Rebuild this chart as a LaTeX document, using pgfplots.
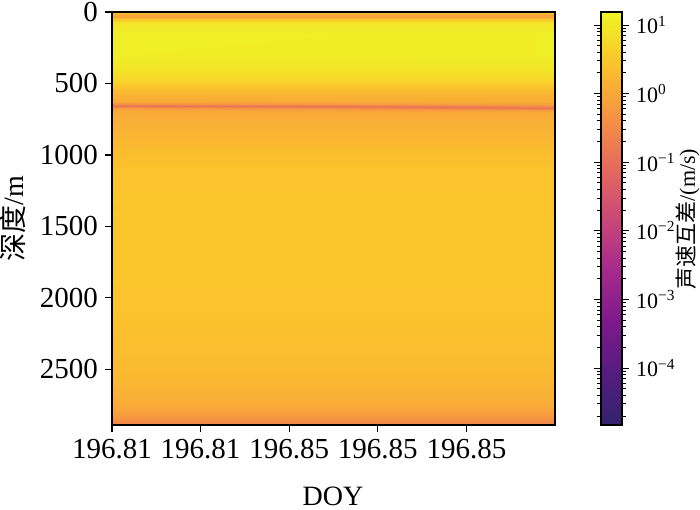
\documentclass[border=0pt]{standalone}
\usepackage{fontspec}
\setmainfont{Liberation Serif}
\newfontfamily\cjk{Noto Sans CJK SC}
\usepackage{pgfplots}
\pgfplotsset{compat=1.18}
\pgfplotsset{colormap={plasma}{rgb255(0cm)=(50,35,108) rgb255(1cm)=(85,28,128) rgb255(2cm)=(125,25,140) rgb255(3cm)=(166,42,140) rgb255(4cm)=(202,72,120) rgb255(5cm)=(229,107,93) rgb255(6cm)=(246,148,66) rgb255(7cm)=(251,195,44) rgb255(7.5cm)=(245,220,40) rgb255(8cm)=(238,245,38)}}
\begin{document}
\begin{tikzpicture}
\begin{axis}[
  name=main,
  scale only axis,
  width=221.5pt, height=206.5pt,
  xmin=0, xmax=5, ymin=0, ymax=2890,
  y dir=reverse,
  enlargelimits=false,
  axis on top,
  colormap name=plasma,
  point meta min=-4.83, point meta max=1.19,
  xtick={0,1,2,3,4},
  xticklabels={196.81,196.81,196.85,196.85,196.85},
  ytick={0,500,1000,1500,2000,2500},
  tick align=outside,
  xtick pos=bottom, ytick pos=left,
  major tick length=3.5pt,
  every tick/.style={black, line width=0.6pt},
  axis line style={line width=0.8pt},
  /pgf/number format/assume math mode=true,
  /pgf/number format/1000 sep={},
  tick label style={font=\fontsize{14.5}{16}\selectfont},
  xlabel={DOY},
  ylabel={{\cjk 深度}/m},
  label style={font=\fontsize{14}{16}\selectfont},
  xlabel style={at={(axis description cs:0.499,-0.172)}, anchor=center},
  ylabel style={at={(axis description cs:-0.2235,0.5)}, anchor=center},
  colorbar,
  colorbar style={
    at={(parent axis.north east)}, anchor=north west, xshift=14.5pt,
    width=10.5pt,
    ytick={-4,-3,-2,-1,0,1},
    yticklabels={10\textsuperscript{−4},10\textsuperscript{−3},10\textsuperscript{−2},10\textsuperscript{−1},10\textsuperscript{0},10\textsuperscript{1}},
    minor ytick={-4.699,-4.523,-4.398,-4.301,-4.222,-4.155,-4.097,-4.046,
                 -3.699,-3.523,-3.398,-3.301,-3.222,-3.155,-3.097,-3.046,
                 -2.699,-2.523,-2.398,-2.301,-2.222,-2.155,-2.097,-2.046,
                 -1.699,-1.523,-1.398,-1.301,-1.222,-1.155,-1.097,-1.046,
                 -0.699,-0.523,-0.398,-0.301,-0.222,-0.155,-0.097,-0.046,
                 0.301,0.477,0.602,0.699,0.778,0.845,0.903,0.954},
    tick align=outside,
    major tick length=3.5pt, minor tick length=2pt,
    every tick/.style={black, line width=0.5pt},
    axis line style={line width=0.6pt},
    yticklabel style={font=\fontsize{11}{13}\selectfont},
  },
]
\addplot[surf, shader=interp, point meta={log10(\thisrow{v})}] table[x=x, y=y] {
x y v
0 0 2.5
2.5 0 2.5
5 0 2.5

0 8 2.0
2.5 8 2.0
5 8 2.0

0 18 0.9
2.5 18 0.9
5 18 0.9

0 38 0.9
2.5 38 0.9
5 38 0.9

0 52 3
2.5 52 3
5 52 3

0 75 9
2.5 75 9
5 75 9

0 150 12
2.5 150 12
5 150 12

0 300 12
2.5 300 11.5
5 300 12

0 380 10
2.5 380 10
5 380 10

0 440 7
2.5 440 7
5 440 7

0 490 4.5
2.5 490 4.5
5 490 4.5

0 530 2.6
2.5 530 2.6
5 530 2.6

0 575 1.6
2.5 575 1.6
5 575 1.6

0 620 1.2
2.5 622 1.2
5 628 1.2

0 638 0.6
2.5 643 0.6
5 651 0.6

0 656 0.12
2.5 661 0.12
5 669 0.12

0 674 0.6
2.5 679 0.6
5 687 0.6

0 695 1.1
2.5 698 1.1
5 703 1.1

0 760 1.3
2.5 760 1.3
5 760 1.3

0 850 1.6
2.5 850 1.6
5 850 1.6

0 950 2.1
2.5 950 2.1
5 950 2.1

0 1100 2.7
2.5 1100 2.7
5 1100 2.7

0 1400 3.0
2.5 1400 3.0
5 1400 3.0

0 1800 3.0
2.5 1800 3.0
5 1800 3.0

0 2100 2.7
2.5 2100 2.7
5 2100 2.7

0 2400 2.2
2.5 2400 2.2
5 2400 2.2

0 2600 1.7
2.5 2600 1.7
5 2600 1.7

0 2750 1.1
2.5 2750 1.1
5 2750 1.1

0 2830 0.6
2.5 2830 0.6
5 2830 0.6

0 2890 0.25
2.5 2890 0.25
5 2890 0.25
};
\end{axis}
\node[rotate=90, anchor=center, font=\fontsize{11}{13}\selectfont] at (288pt,103pt) {{\cjk 声速互差}/(m/s)};
\pgfresetboundingbox
\path[use as bounding box] (-56pt,-42pt) rectangle (294pt,212.5pt);
\end{tikzpicture}
\end{document}
